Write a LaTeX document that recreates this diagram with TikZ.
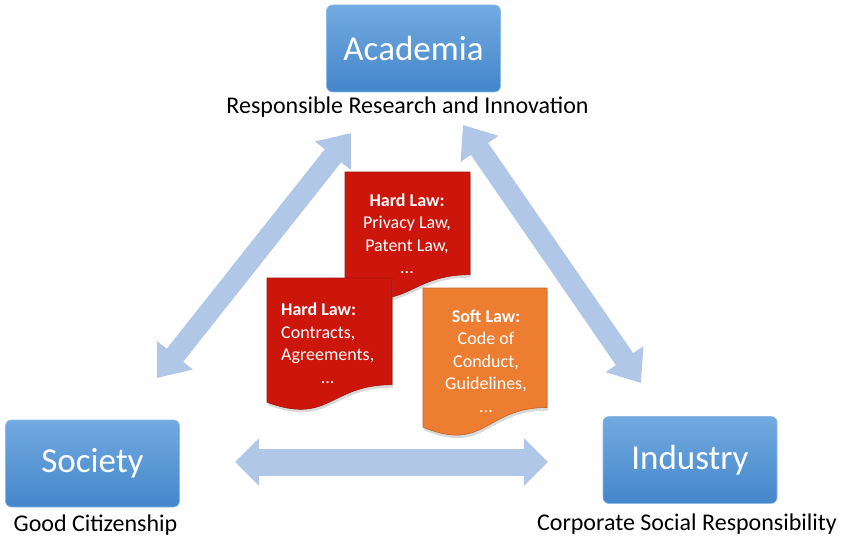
\documentclass[tikz,border=0pt]{standalone}
\usepackage{fontspec}
\setmainfont{Carlito}
\definecolor{boxtop}{RGB}{114, 170, 224}
\definecolor{boxbot}{RGB}{68, 134, 203}
\definecolor{linkblue}{RGB}{176, 199, 231}
\definecolor{hardred}{RGB}{204, 22, 12}
\definecolor{softorange}{RGB}{237, 125, 49}
\usetikzlibrary{arrows.meta, positioning, shadows}

% document shape with a wavy bottom edge: x, y, width, height, colour
\newcommand{\lawdoc}[5]{%
  \filldraw[#5, draw=#5!80!black, line width=0.6pt,
    drop shadow={opacity=0.3, shadow xshift=1pt, shadow yshift=-3pt}]
    (#1,#2) -- ({#1+#3},#2) -- ({#1+#3},{#2+0.802*#4})
    .. controls ({#1+0.5*#3},{#2+0.802*#4}) and ({#1+0.5*#3},{#2+1.107*#4})
    .. (#1,{#2+0.934*#4}) -- cycle;}

\begin{document}
\begin{tikzpicture}[x=1pt, y=-1pt,
  box/.style={draw=boxtop!80!white, line width=0.6pt, rounded corners=6pt,
    top color=boxtop, bottom color=boxbot, text=white,
    minimum width=174pt, minimum height=87pt,
    font=\fontsize{35}{40}\selectfont},
  lbl/.style={font=\fontsize{24}{28}\selectfont, inner sep=2pt},
  link/.style={draw=linkblue, line width=21pt,
    {Triangle[width=44pt, length=29pt]}-{Triangle[width=44pt, length=29pt]}},
  wide link/.style={link, line width=27pt,
    {Triangle[width=46pt, length=24pt]}-{Triangle[width=46pt, length=24pt]}},
  doctext/.style={text=white, font=\fontsize{18}{22.5}\selectfont, inner sep=0pt}
]
  \useasboundingbox (0,0) rectangle (842,540);

  % Actors
  \node[box] (aca) at (413.5, 48.5) {Academia};
  \node[box] (soc) at (92.5, 463.5) {Society};
  \node[box] (ind) at (690, 460) {Industry};

  % What each actor stands for
  \node[lbl, below=2pt of aca, xshift=-6pt] (acalbl) {Responsible Research and Innovation};
  \node[lbl, below=5pt of soc, xshift=3pt] (soclbl) {Good Citizenship};
  \node[lbl, below=8pt of ind, xshift=-3pt] (indlbl) {Corporate Social Responsibility};

  % Arrow ends
  \coordinate (socup)   at (157, 378);
  \coordinate (acaleft) at (351, 133);
  \coordinate (acaright) at (463, 125);
  \coordinate (indup)   at (641, 383);
  \coordinate (socright) at (235, 462);
  \coordinate (indleft) at (548, 462);

  % Relations
  \draw[link] (socup) -- (acaleft);
  \draw[link] (acaright) -- (indup);
  \draw[wide link] (socright) -- (indleft);

  % Documents
  \lawdoc{345}{172}{125}{128}{hardred}
  \node[doctext, align=center] (privacy) at (407, 234)
    {\textbf{Hard Law:}\\Privacy Law,\\Patent Law,\\...};

  \lawdoc{267}{278}{125}{133}{hardred}
  \node[doctext, anchor=west] (contracts) at (281, 345)
    {\begin{tabular}{@{}l@{}}\textbf{Hard Law:}\\Contracts,\\Agreements,\\\multicolumn{1}{@{}c@{}}{...}\end{tabular}};

  \lawdoc{423}{288}{124}{149}{softorange}
  \node[doctext, align=center] (softlaw) at (486, 361)
    {\textbf{Soft Law:}\\Code of\\Conduct,\\Guidelines,\\...};
\end{tikzpicture}
\end{document}
